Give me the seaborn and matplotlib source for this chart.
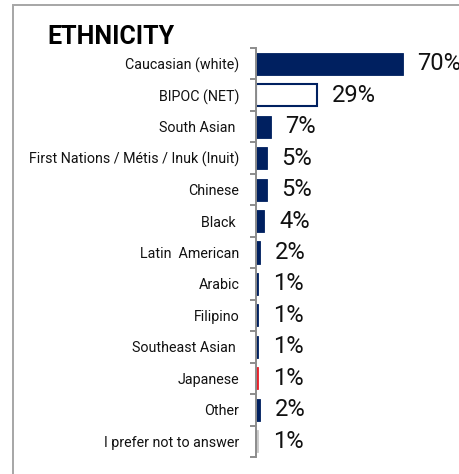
import matplotlib
matplotlib.use("Agg")
import matplotlib.pyplot as plt
from matplotlib.patches import Rectangle
import seaborn as sns
import pandas as pd

# Survey responses by ethnicity (percent of respondents)
categories = [
    "Caucasian (white)",
    "BIPOC (NET)",
    "South Asian ",
    "First Nations / Métis / Inuk (Inuit)",
    "Chinese",
    "Black ",
    "Latin  American",
    "Arabic",
    "Filipino",
    "Southeast Asian ",
    "Japanese",
    "Other",
    "I prefer not to answer",
]
values = [70, 29, 7, 5, 5, 4, 2, 1, 1, 1, 1, 2, 1]
value_labels = ["70%", "29%", "7%", "5%", "5%", "4%", "2%", "1%", "1%", "1%", "1%", "2%", "1%"]

NAVY = "#002060"
bar_colors = [NAVY, "#FFFFFF", NAVY, NAVY, NAVY, NAVY, NAVY, NAVY, NAVY, NAVY,
              "#E8202A", NAVY, "#C9C9C9"]

sns.set_style("white")
plt.rcParams["font.family"] = ["Roboto", "DejaVu Sans"]

df = pd.DataFrame({"group": categories, "pct": values})

W, H = 459, 474
fig = plt.figure(figsize=(W / 100, H / 100), dpi=100)
fig.patch.set_facecolor("white")

# panel frame
fig.add_artist(Rectangle((12.5 / W, -0.1), 2.0, 1.1 - 5.5 / H,
                         transform=fig.transFigure, fill=False,
                         edgecolor="#A6A6A6", linewidth=1.4))

ax = fig.add_axes([256 / W, 1 - 457 / H, 203 / W, 409 / H])
sns.barplot(data=df, x="pct", y="group", hue="group", palette=bar_colors,
            legend=False, width=0.7, orient="h", ax=ax, saturation=1)

for i, p in enumerate(ax.patches):
    if categories[i] == "BIPOC (NET)":
        p.set_facecolor("white")
        p.set_edgecolor(NAVY)
        p.set_linewidth(1.5)
    else:
        # a thin matching outline keeps the 1% bars visible
        p.set_edgecolor(p.get_facecolor())
        p.set_linewidth(0.6)

ax.set_xlim(0, 203 / 2.1)
ax.set_ylim(len(categories) - 0.5, -0.5)

for i, (v, lab) in enumerate(zip(values, value_labels)):
    ax.annotate(lab, xy=(v, i), xytext=(10.5, 0), textcoords="offset points",
                va="center", ha="left", fontsize=17, color="#111111",
                annotation_clip=False)

# axis styling: only the left spine, with ticks between categories
for side in ["top", "right", "bottom"]:
    ax.spines[side].set_visible(False)
ax.spines["left"].set_color("#8C8C8C")
ax.spines["left"].set_linewidth(1.4)
ax.set_xticks([])
ax.set_xlabel("")
ax.set_ylabel("")
ax.set_yticks(range(len(categories)))
ax.set_yticklabels(categories, fontsize=10.3, color="#111111")
ax.set_yticks([i - 0.5 for i in range(len(categories) + 1)], minor=True)
ax.tick_params(axis="y", which="major", left=False, length=0, pad=12)
ax.tick_params(axis="y", which="minor", left=True, length=4.5, width=1.4,
               color="#8C8C8C")
ax.patch.set_alpha(0)

fig.text(47 / W, 1 - 44 / H, "ETHNICITY", fontsize=18, fontweight="bold",
         va="baseline", ha="left", color="#000000")

fig.savefig("out.png", dpi=100)
